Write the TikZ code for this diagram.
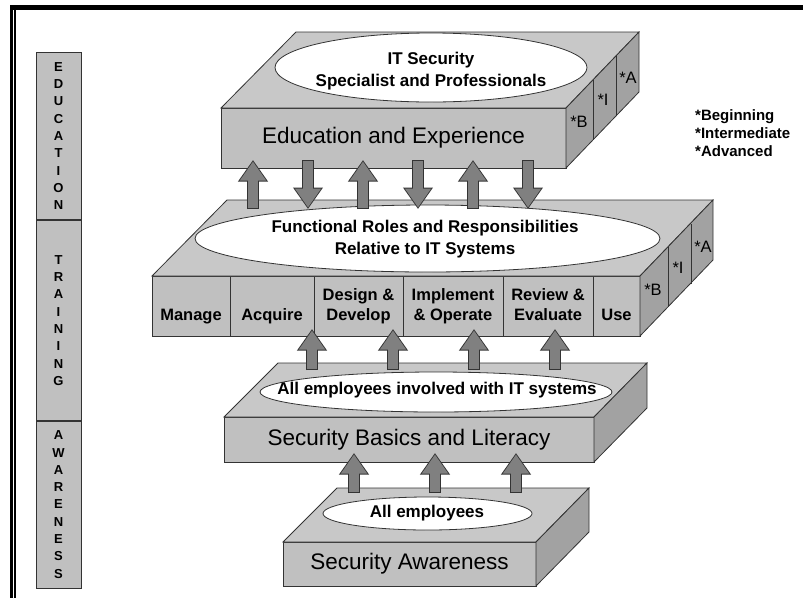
\documentclass[tikz,border=0pt]{standalone}
\usepackage{fontspec}
\setmainfont{Liberation Sans}
\usetikzlibrary{positioning,shapes.geometric,arrows.meta}
\definecolor{frontgray}{HTML}{C0C0C0}
\definecolor{topgray}{HTML}{C8C8C8}
\definecolor{sidegray}{HTML}{A2A2A2}
\definecolor{arrowgray}{HTML}{808080}
\definecolor{linegray}{HTML}{333333}

\begin{document}
\begin{tikzpicture}[x=1pt,y=-1pt]
\tikzset{front/.style={draw=linegray, line width=0.8pt, fill=frontgray, rectangle, outer sep=0pt, inner sep=0pt, minimum height=60pt, font=\fontsize{22.5}{27}\selectfont},
topface/.style={draw=linegray, line width=0.8pt, fill=topgray},
sideface/.style={draw=linegray, line width=0.8pt, fill=sidegray},
column/.style={front, align=center, font=\bfseries\fontsize{16.5}{20}\selectfont},
oval/.style={draw=linegray, line width=0.8pt, fill=white, ellipse, inner sep=0pt},
ovaltext/.style={align=center, font=\bfseries\fontsize{17}{22}\selectfont},
level/.style={inner sep=0pt, font=\fontsize{16.5}{17}\selectfont},
barbox/.style={draw=linegray, line width=0.8pt, fill=frontgray, outer sep=0pt, inner sep=0pt, minimum width=45pt, align=center, font=\bfseries\fontsize{13}{17.3}\selectfont},
blockarrow/.style={draw=arrowgray, line width=10pt, -{Triangle[width=25pt,length=19pt]}, shorten >=1.5pt, shorten <=1pt,
  preaction={draw=linegray, line width=12pt, -{Triangle[width=28.5pt,length=21.5pt]}, shorten >=0pt, shorten <=0pt}}}
\useasboundingbox (0,0) rectangle (803,598);
\draw[line width=4.5pt] (10,7.5) -- (803,7.5);
\draw[line width=2.5pt] (11.5,6) -- (11.5,598);
\draw[line width=1.7pt] (14.9,9) -- (14.9,598);

\node[barbox, minimum height=168pt] (edubar) at (58.5,136) {E\\D\\U\\C\\A\\T\\I\\O\\N};
\node[barbox, minimum height=201pt, below=0pt of edubar] (trainbar) {T\\R\\A\\I\\N\\I\\N\\G};
\node[barbox, minimum height=167pt, below=0pt of trainbar] (awarebar) {A\\W\\A\\R\\E\\N\\E\\S\\S};
\draw[line width=2pt, linegray] (edubar.south west) -- (edubar.south east);
\draw[line width=2pt, linegray] (trainbar.south west) -- (trainbar.south east);

\node[front, minimum width=345pt] (edu) at (393.5,138) {Education and Experience};
\draw[topface] (edu.north west) -- ++(75,-76) -- ++(343,0) -- (edu.north east) -- cycle;
\draw[sideface] (edu.north east) -- ++(73,-76) -- ++(0,60) -- (edu.south east) -- cycle;
\draw[linegray, line width=0.8pt] (edu.north east) ++(27,-28) -- ++(0,60);
\draw[linegray, line width=0.8pt] (edu.north east) ++(50,-52) -- ++(0,60);
\node[level] (eduB) at ([shift={(13,14)}]edu.north east) {*B};
\node[level] (eduI) at ([shift={(37,-8)}]edu.north east) {*I};
\node[level] (eduA) at ([shift={(62,-30)}]edu.north east) {*A};
\node[oval, minimum width=312pt, minimum height=69pt] (specoval) at (431,67.5) {};
\node[ovaltext] (spec) at (431,71) {IT Security\\Specialist and Professionals};

\node[column, minimum width=78pt] (manage) at (191,306) {\strut\\Manage\strut};
\node[column, minimum width=84pt, right=0pt of manage] (acquire) {\strut\\Acquire\strut};
\node[column, minimum width=89pt, right=0pt of acquire] (design) {Design \&\strut\\Develop\strut};
\node[column, minimum width=100pt, right=0pt of design] (implement) {Implement\strut\\\& Operate\strut};
\node[column, minimum width=90pt, right=0pt of implement] (review) {Review \&\strut\\Evaluate\strut};
\node[column, minimum width=47pt, right=0pt of review] (use) {\strut\\Use\strut};
\draw[topface] (manage.north west) -- ++(75,-76) -- ++(486,0) -- (use.north east) -- cycle;
\draw[sideface] (use.north east) -- ++(73,-76) -- ++(0,60) -- (use.south east) -- cycle;
\draw[linegray, line width=0.8pt] (use.north east) ++(28,-29) -- ++(0,60);
\draw[linegray, line width=0.8pt] (use.north east) ++(51,-52) -- ++(0,60);
\node[level] (roleB) at ([shift={(13,14)}]use.north east) {*B};
\node[level] (roleI) at ([shift={(38,-8)}]use.north east) {*I};
\node[level] (roleA) at ([shift={(63,-29)}]use.north east) {*A};
\node[oval, minimum width=465pt, minimum height=67pt] (roleoval) at (427.5,238.5) {};
\node[ovaltext] (roles) at (425,239) {Functional Roles and Responsibilities\\Relative to IT Systems};

\node[front, minimum width=370pt, minimum height=45pt] (basics) at (409,439.5) {Security Basics and Literacy};
\draw[topface] (basics.north west) -- ++(54,-54) -- ++(369,0) -- (basics.north east) -- cycle;
\draw[sideface] (basics.north east) -- ++(53,-54) -- ++(0,45) -- (basics.south east) -- cycle;
\node[oval, minimum width=352pt, minimum height=40pt] (itoval) at (436,392) {};
\node[ovaltext] (itstaff) at (437,390) {All employees involved with IT systems};

\node[front, minimum width=253pt, minimum height=44pt] (aware) at (409.5,564) {Security Awareness};
\draw[topface] (aware.north west) -- ++(54,-54) -- ++(252,0) -- (aware.north east) -- cycle;
\draw[sideface] (aware.north east) -- ++(53,-54) -- ++(0,44) -- (aware.south east) -- cycle;
\node[oval, minimum width=209pt, minimum height=33pt] (alloval) at (427.5,513.5) {};
\node[ovaltext] (all) at (427,513) {All employees};

\node[anchor=west, align=left, inner sep=0pt, font=\bfseries\fontsize{15}{18}\selectfont] (key) at (695,133) {*Beginning\\*Intermediate\\*Advanced};

\foreach \i/\x in {1/253,2/308,3/363,4/418,5/473,6/528} {
  \coordinate (hi\i) at (\x,160);
  \coordinate (lo\i) at (\x,209);
}
\foreach \i in {1,3,5} \draw[blockarrow] (lo\i) -- (hi\i);
\foreach \i in {2,4,6} \draw[blockarrow] (hi\i) -- (lo\i);
\foreach \i/\x in {1/312,2/393,3/474,4/555} {
  \coordinate (rt\i) at (\x,329);
  \coordinate (rb\i) at (\x,370);
  \draw[blockarrow] (rb\i) -- (rt\i);
}
\foreach \i/\x in {1/354,2/435,3/516} {
  \coordinate (bt\i) at (\x,453);
  \coordinate (bb\i) at (\x,493);
  \draw[blockarrow] (bb\i) -- (bt\i);
}
\end{tikzpicture}
\end{document}
